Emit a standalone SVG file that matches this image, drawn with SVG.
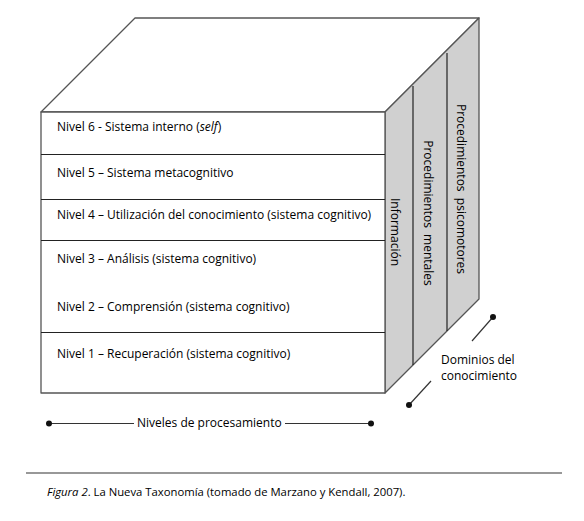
<svg xmlns="http://www.w3.org/2000/svg" width="584" height="521" viewBox="0 0 584 521">
<style>
.t{font-family:"Open Sans","Liberation Sans",sans-serif;font-size:12px;fill:#000}
.v{font-family:"Open Sans","Liberation Sans",sans-serif;font-size:12px;fill:#000}
.edge{fill:#fff;stroke:#555;stroke-width:1.3;stroke-linejoin:round}
.side{fill:#d0d0d0;stroke:#555;stroke-width:1.3;stroke-linejoin:round}
.div{stroke:#222;stroke-width:1.2}
.conn{stroke:#333;stroke-width:1.2;fill:none}
.dot{fill:#111}
</style>
<rect width="584" height="521" fill="#fff"/>
<g id="cube">
<polygon class="edge" points="41,112 135,18 479,18 385,112"/>
<polygon class="side" points="385,112 479,18 479,299 385,393"/>
<rect class="edge" x="41" y="112" width="344" height="281"/>
</g>
<g id="nivel6"><text class="t" x="57" y="131">Nivel 6 - Sistema interno (<tspan font-style="italic">self</tspan>)</text></g>
<g id="nivel5"><line class="div" x1="41" y1="154.5" x2="385" y2="154.5"/><text class="t" x="57" y="177">Nivel 5 – Sistema metacognitivo</text></g>
<g id="nivel4"><line class="div" x1="41" y1="199.5" x2="385" y2="199.5"/><text class="t" x="57" y="219">Nivel 4 – Utilización del conocimiento (sistema cognitivo)</text></g>
<g id="nivel3"><line class="div" x1="41" y1="240.5" x2="385" y2="240.5"/><text class="t" x="57" y="263">Nivel 3 – Análisis (sistema cognitivo)</text></g>
<g id="nivel2"><text class="t" x="57" y="311">Nivel 2 – Comprensión (sistema cognitivo)</text></g>
<g id="nivel1"><line class="div" x1="41" y1="332.5" x2="385" y2="332.5"/><text class="t" x="57" y="358">Nivel 1 – Recuperación (sistema cognitivo)</text></g>
<g id="informacion"><text class="v" transform="translate(391,232) rotate(90)" text-anchor="middle">Información</text></g>
<g id="proc-mentales"><line class="div" x1="413" y1="86" x2="413" y2="365"/><text class="v" transform="translate(424,213) rotate(90)" text-anchor="middle" xml:space="preserve">Procedimientos  mentales</text></g>
<g id="proc-psicomotores"><line class="div" x1="447" y1="53" x2="447" y2="331"/><text class="v" transform="translate(457,189) rotate(90)" text-anchor="middle" xml:space="preserve">Procedimientos  psicomotores</text></g>
<g id="dominios"><text class="t" x="441" y="364">Dominios del</text><text class="t" x="441" y="380">conocimiento</text></g>
<g id="niveles-label"><text class="t" x="137" y="427">Niveles de procesamiento</text></g>
<g id="connectors">
<line class="conn" x1="49" y1="423.5" x2="134" y2="423.5"/>
<line class="conn" x1="285" y1="423.5" x2="371" y2="423.5"/>
<circle class="dot" cx="49" cy="423.5" r="3"/>
<circle class="dot" cx="371" cy="423.5" r="3"/>
<line class="conn" x1="493" y1="317" x2="472" y2="341"/>
<circle class="dot" cx="493" cy="317" r="3"/>
<line class="conn" x1="431" y1="381" x2="409" y2="405"/>
<circle class="dot" cx="409" cy="405" r="3"/>
</g>
<g id="caption">
<line x1="26" y1="473" x2="562" y2="473" stroke="#333" stroke-width="1.2"/>
<text class="t" x="47" y="496" style="font-size:11.3px"><tspan font-style="italic">Figura 2</tspan>. La Nueva Taxonomía (tomado de Marzano y Kendall, 2007).</text>
</g>
</svg>
